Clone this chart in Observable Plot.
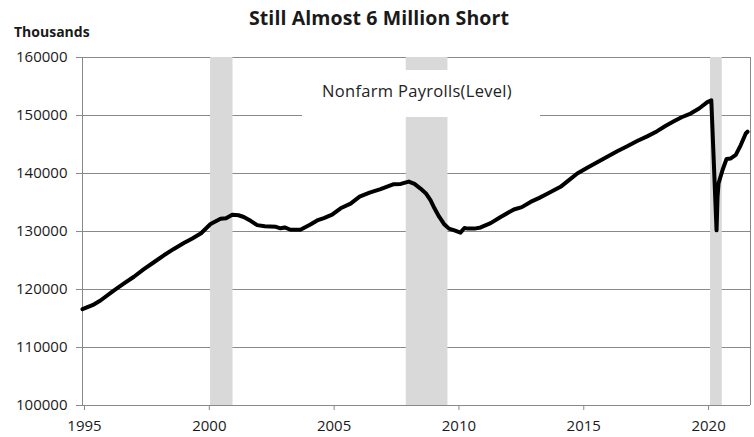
<!DOCTYPE html>
<html><head><meta charset="utf-8">
<script src="https://cdn.jsdelivr.net/npm/d3@7"></script>
<script src="https://cdn.jsdelivr.net/npm/@observablehq/plot@0.6"></script>
<style>
body{margin:0;background:#fff;}
#wrap{position:relative;width:754px;height:437px;overflow:hidden;font-family:"Open Sans",sans-serif;color:#1a1a1a;background:#fff;}
#chart{position:absolute;left:0;top:0;}
#title{position:absolute;left:2px;top:8px;width:754px;text-align:center;font-weight:700;font-size:19.5px;line-height:20px;letter-spacing:0.1px;}
#units{position:absolute;left:14px;top:25px;font-weight:700;font-size:14px;line-height:14px;}
#legend{position:absolute;left:302px;top:70px;width:238px;height:47px;background:#fff;z-index:2;}
#legend span{position:absolute;left:-4px;width:238px;top:12px;text-align:center;font-size:16.5px;line-height:17px;letter-spacing:0.3px;color:#222;}
</style></head><body>
<div id="wrap">
<div id="chart"></div>
<div id="title">Still Almost 6 Million Short</div>
<div id="units">Thousands</div>
<div id="legend"><span>Nonfarm Payrolls(Level)</span></div>
</div>
<script>
// Decimal year of each observation
const years = [1995.00,1995.40,1995.72,1996.25,1996.65,1997.06,1997.46,1997.86,1998.26,1998.66,
  1999.06,1999.40,1999.75,2000.13,2000.53,2000.75,2001.00,2001.25,2001.46,2001.75,
  2002.00,2002.30,2002.53,2002.75,2002.93,2003.10,2003.33,2003.73,2004.13,2004.40,
  2004.67,2005.00,2005.34,2005.74,2006.10,2006.50,2006.94,2007.47,2007.75,2008.07,
  2008.30,2008.54,2008.75,2008.94,2009.10,2009.28,2009.48,2009.68,2009.90,2010.14,
  2010.30,2010.44,2010.70,2010.95,2011.35,2011.75,2012.28,2012.60,2012.95,2013.30,
  2013.62,2014.15,2014.50,2014.82,2015.22,2015.62,2016.02,2016.42,2016.82,2017.22,
  2017.62,2018.02,2018.35,2018.69,2019.00,2019.36,2019.70,2020.03,2020.19,2020.40,
  2020.44,2020.48,2020.64,2020.80,2020.97,2021.17,2021.37,2021.57,2021.64];
// Nonfarm payrolls, thousands
const payrolls = [116600,117300,118100,119800,121000,122200,123500,124700,125900,127000,
  128000,128800,129700,131300,132200,132300,132900,132800,132500,131800,
  131100,130900,130850,130800,130550,130700,130300,130300,131200,131900,
  132300,132900,134000,134800,136000,136700,137300,138150,138200,138600,
  138200,137400,136600,135400,134000,132600,131300,130500,130200,129800,
  130600,130500,130500,130700,131450,132500,133800,134200,135100,135800,
  136500,137700,138900,140000,141000,141950,142900,143850,144700,145600,
  146400,147300,148200,149000,149700,150330,151200,152300,152600,130200,
  136000,138300,140600,142500,142600,143200,144900,146900,147200];
// Recession shading
const recessionStart = [2000.13, 2007.97, 2020.16];
const recessionEnd   = [2001.03, 2009.64, 2020.63];
// Ticks
const yTicks = [100000,110000,120000,130000,140000,150000,160000];
const xTicks = [1995,2000,2005,2010,2015,2020];
const xDomain = [1995, 2021.76];

const series = years.map((t,i)=>({t, v: payrolls[i]}));
const recessions = recessionStart.map((s,i)=>({s, e: recessionEnd[i]}));
const grid = "#898989";

const chart = Plot.plot({
  width: 754, height: 437,
  marginLeft: 82, marginRight: 4, marginTop: 57, marginBottom: 32,
  style: {fontFamily: '"Open Sans", sans-serif', fontSize: "15px", color: "#1a1a1a", background: "transparent"},
  x: {type: "linear", domain: xDomain},
  y: {domain: [100000, 160000]},
  marks: [
    Plot.ruleY(yTicks, {stroke: grid, strokeWidth: 1}),
    Plot.rect(recessions, {x1: "s", x2: "e", fill: "#d9d9d9"}),
    Plot.ruleX(xDomain, {stroke: grid, strokeWidth: 1}),
    Plot.axisY({ticks: yTicks, tickSize: 6, tickPadding: 9, tickFormat: d3.format("d"), label: null, stroke: grid}),
    Plot.axisX({ticks: xTicks, tickSize: 5, tickPadding: 10, tickFormat: d => String(d), label: null, stroke: grid, dx: 2}),
    Plot.lineY(series, {x: "t", y: "v", stroke: "#000", strokeWidth: 4, strokeLinejoin: "round", strokeLinecap: "round"})
  ]
});
document.getElementById("chart").appendChild(chart);
</script>
</body></html>
